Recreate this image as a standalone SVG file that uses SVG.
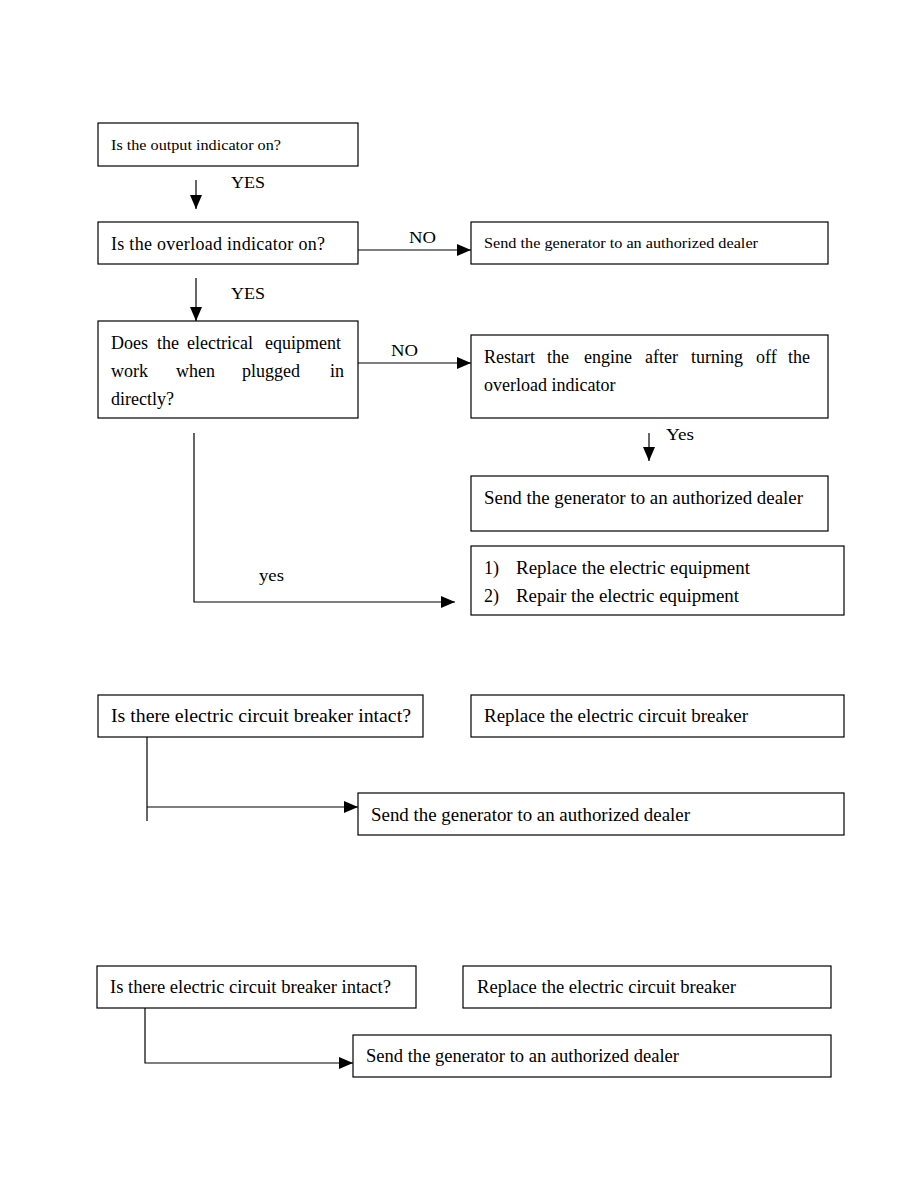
<svg xmlns="http://www.w3.org/2000/svg" width="918" height="1188" viewBox="0 0 918 1188">
<style>
rect{fill:#fff;stroke:#000;stroke-width:1.2}
text{font-family:"Liberation Serif","Times New Roman",serif;fill:#000;font-size:18px}
.s{font-size:15px}
.l{font-size:17px}
.c{stroke:#000;stroke-width:1.2;fill:none}
</style>
<defs>
<marker id="ah" viewBox="0 0 14 12" refX="14" refY="6" markerWidth="14" markerHeight="12" markerUnits="userSpaceOnUse" orient="auto">
<path d="M0,0 L14,6 L0,12 Z" fill="#000"/>
</marker>
</defs>
<rect width="918" height="1188" style="fill:#fff;stroke:none"/>
<g id="connectors">
<line class="c" x1="196" y1="180" x2="196" y2="209" marker-end="url(#ah)"/>
<line class="c" x1="358" y1="250" x2="471" y2="250" marker-end="url(#ah)"/>
<line class="c" x1="196" y1="278" x2="196" y2="321" marker-end="url(#ah)"/>
<line class="c" x1="358" y1="363" x2="471" y2="363" marker-end="url(#ah)"/>
<line class="c" x1="649" y1="433" x2="649" y2="461" marker-end="url(#ah)"/>
<polyline class="c" points="194,433 194,602 455,602" marker-end="url(#ah)"/>
<line class="c" x1="147" y1="737" x2="147" y2="821"/>
<line class="c" x1="147" y1="807" x2="358" y2="807" marker-end="url(#ah)"/>
<polyline class="c" points="145,1008 145,1063 353,1063" marker-end="url(#ah)"/>
<text class="l" x="231" y="188" textLength="34" lengthAdjust="spacingAndGlyphs">YES</text>
<text class="l" x="409" y="243" textLength="27" lengthAdjust="spacingAndGlyphs">NO</text>
<text class="l" x="231" y="299" textLength="34" lengthAdjust="spacingAndGlyphs">YES</text>
<text class="l" x="391" y="356" textLength="27" lengthAdjust="spacingAndGlyphs">NO</text>
<text class="l" x="666" y="440" textLength="28" lengthAdjust="spacingAndGlyphs">Yes</text>
<text class="l" x="259" y="581" textLength="25" lengthAdjust="spacingAndGlyphs">yes</text>
</g>
<g id="n1"><rect x="98" y="123" width="260" height="43"/><text class="s" x="111" y="150" textLength="170" lengthAdjust="spacingAndGlyphs">Is the output indicator on?</text></g>
<g id="n2"><rect x="98" y="222" width="260" height="42"/><text x="111" y="250" textLength="214" lengthAdjust="spacing">Is the overload indicator on?</text></g>
<g id="n3"><rect x="471" y="222" width="357" height="42"/><text class="s" x="484" y="248" textLength="274" lengthAdjust="spacingAndGlyphs">Send the generator to an authorized dealer</text></g>
<g id="n4"><rect x="98" y="321" width="260" height="97"/>
<text y="349"><tspan x="111">Does</tspan><tspan x="157">the</tspan><tspan x="187">electrical</tspan><tspan x="265">equipment</tspan></text>
<text y="377"><tspan x="111">work</tspan><tspan x="176">when</tspan><tspan x="242">plugged</tspan><tspan x="330">in</tspan></text>
<text x="111" y="405">directly?</text></g>
<g id="n5"><rect x="471" y="335" width="357" height="83"/>
<text y="363"><tspan x="484">Restart</tspan><tspan x="547">the</tspan><tspan x="584">engine</tspan><tspan x="645">after</tspan><tspan x="691">turning</tspan><tspan x="756">off</tspan><tspan x="788">the</tspan></text>
<text x="484" y="391">overload indicator</text></g>
<g id="n6"><rect x="471" y="476" width="357" height="55"/><text x="484" y="504" textLength="319" lengthAdjust="spacingAndGlyphs">Send the generator to an authorized dealer</text></g>
<g id="n7"><rect x="471" y="546" width="373" height="69"/>
<text x="484" y="574">1)</text><text x="516" y="574" textLength="234" lengthAdjust="spacingAndGlyphs">Replace the electric equipment</text>
<text x="484" y="602">2)</text><text x="516" y="602" textLength="223" lengthAdjust="spacingAndGlyphs">Repair the electric equipment</text></g>
<g id="n8"><rect x="98" y="695" width="325" height="42"/><text x="111" y="722" textLength="300" lengthAdjust="spacingAndGlyphs">Is there electric circuit breaker intact?</text></g>
<g id="n9"><rect x="471" y="695" width="373" height="42"/><text x="484" y="722" textLength="264" lengthAdjust="spacingAndGlyphs">Replace the electric circuit breaker</text></g>
<g id="n10"><rect x="358" y="793" width="486" height="42"/><text x="371" y="821" textLength="319" lengthAdjust="spacingAndGlyphs">Send the generator to an authorized dealer</text></g>
<g id="n11"><rect x="97" y="966" width="319" height="42"/><text x="110" y="993" textLength="281" lengthAdjust="spacingAndGlyphs">Is there electric circuit breaker intact?</text></g>
<g id="n12"><rect x="463" y="966" width="368" height="42"/><text x="477" y="993" textLength="259" lengthAdjust="spacingAndGlyphs">Replace the electric circuit breaker</text></g>
<g id="n13"><rect x="353" y="1035" width="478" height="42"/><text x="366" y="1062" textLength="313" lengthAdjust="spacingAndGlyphs">Send the generator to an authorized dealer</text></g>
</svg>
